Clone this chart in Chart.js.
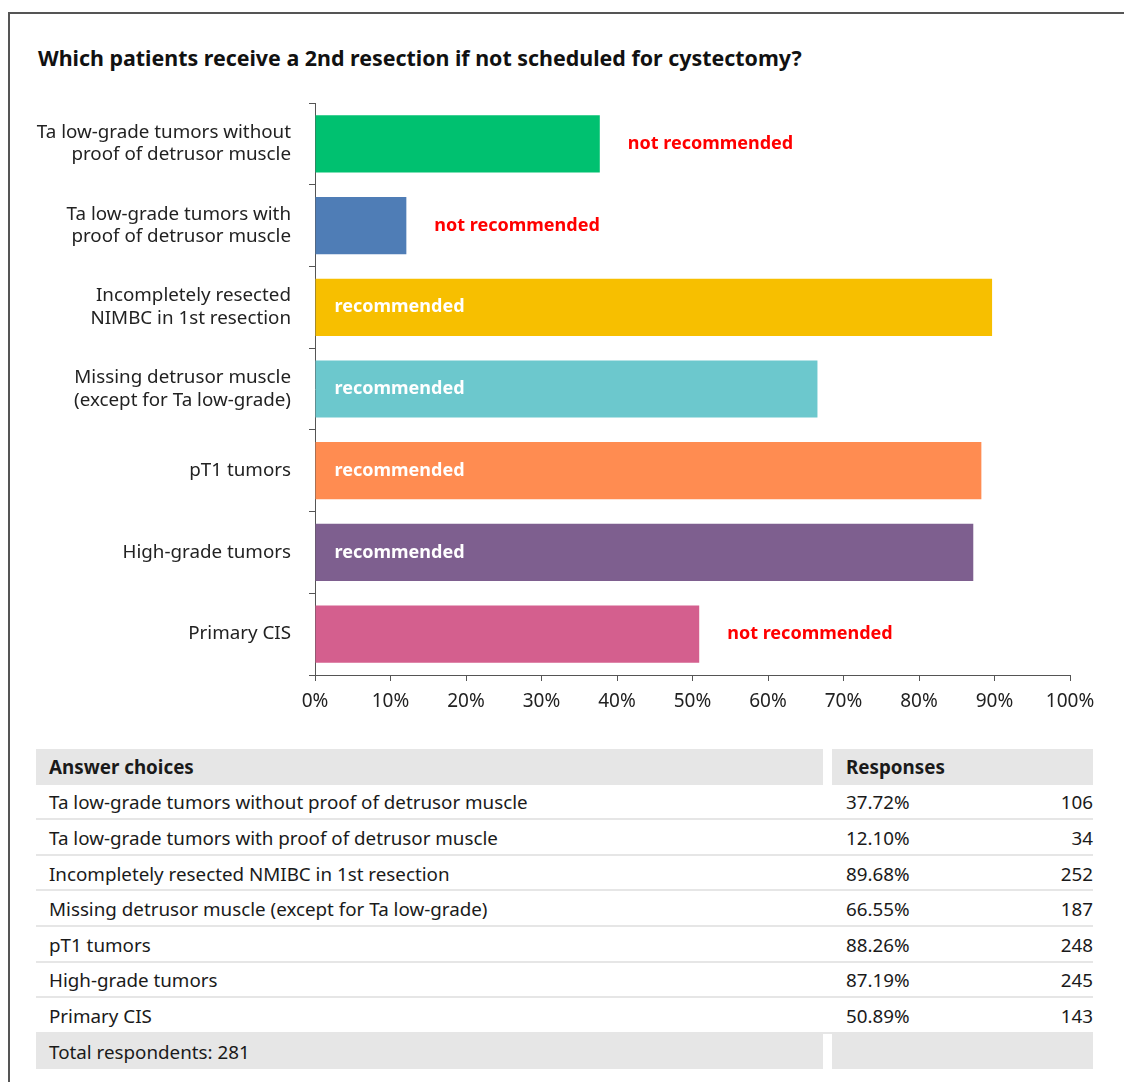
<!DOCTYPE html>
<html>
<head>
<meta charset="utf-8">
<script src="https://cdn.jsdelivr.net/npm/chart.js@4.4.1/dist/chart.umd.min.js"></script>
<style>
  body { margin: 0; background: #fff; font-family: "Noto Sans", sans-serif; color: #1a1a1a; }
  #frame { position: absolute; left: 8px; top: 12px; width: 1200px; height: 1200px;
           border-top: 2px solid #555; border-left: 2px solid #555; }
  #title { position: absolute; left: 38px; top: 43px; font-size: 21.4px; font-weight: bold; color: #111; }
  #wrap { position: absolute; left: 0; top: 90px; width: 1124px; height: 640px; }
  table { position: absolute; left: 36px; top: 749px; width: 1057px; border-collapse: collapse; font-size: 18.8px; }
  td { height: 31.6px; padding: 2px 0 0 0; line-height: 20px; border-bottom: 2px solid #e6e6e6; }
  tr.hd td, tr.ft td { border-bottom: none; height: 34.6px; padding-top: 1px; }
  td.c1 { padding-left: 13px; width: 774px; }
  td.gap { width: 9px; background: #fff; }
  td.c2 { padding-left: 14px; width: 120px; }
  td.c3 { text-align: right; }
  tr.hd td.c1, tr.hd td.c2, tr.hd td.c3, tr.ft td.c1, tr.ft td.c2, tr.ft td.c3 { background: #e6e6e6; }
  tr.hd td { font-weight: bold; }
</style>
</head>
<body>
<div id="frame"></div>
<div id="title">Which patients receive a 2nd resection if not scheduled for cystectomy?</div>
<div id="wrap"><canvas id="chart"></canvas></div>
<table id="tbl"></table>
<script>
// answer choices (as in the table) and the wrapped axis labels
var choices = ["Ta low-grade tumors without proof of detrusor muscle",
               "Ta low-grade tumors with proof of detrusor muscle",
               "Incompletely resected NMIBC in 1st resection",
               "Missing detrusor muscle (except for Ta low-grade)",
               "pT1 tumors",
               "High-grade tumors",
               "Primary CIS"];
var axisLabels = [["Ta low-grade tumors without", "proof of detrusor muscle"],
                  ["Ta low-grade tumors with", "proof of detrusor muscle"],
                  ["Incompletely resected", "NIMBC in 1st resection"],
                  ["Missing detrusor muscle", "(except for Ta low-grade)"],
                  "pT1 tumors",
                  "High-grade tumors",
                  "Primary CIS"];
var percents = [37.72, 12.10, 89.68, 66.55, 88.26, 87.19, 50.89];
var counts = [106, 34, 252, 187, 248, 245, 143];
var advice = ["not recommended", "not recommended", "recommended", "recommended",
              "recommended", "recommended", "not recommended"];
var barColors = ["#00c170", "#4f7db6", "#f7bf00", "#6cc8cd", "#ff8c51", "#7e5f8f", "#d45f8e"];
var totalRespondents = 281;

// annotation: "recommended" inside the bar, "not recommended" after it
var adviceLabels = {
    id: "adviceLabels",
    afterDatasetsDraw: function (chart) {
        var ctx = chart.ctx;
        var meta = chart.getDatasetMeta(0);
        ctx.save();
        ctx.font = "bold 18px 'Noto Sans'";
        ctx.textBaseline = "middle";
        ctx.textAlign = "left";
        meta.data.forEach(function (bar, i) {
            if (advice[i] === "recommended") {
                ctx.fillStyle = "#ffffff";
                ctx.fillText(advice[i], bar.base + 19, bar.y);
            } else {
                ctx.fillStyle = "#ff0000";
                ctx.fillText(advice[i], bar.x + 28, bar.y);
            }
        });
        ctx.restore();
    }
};

var ctx = document.getElementById("chart").getContext("2d");
new Chart(ctx, {
    type: "bar",
    data: {
        labels: axisLabels,
        datasets: [{
            data: percents,
            backgroundColor: barColors,
            barPercentage: 0.7,
            categoryPercentage: 1
        }]
    },
    options: {
        indexAxis: "y",
        responsive: true,
        maintainAspectRatio: false,
        animation: false,
        layout: { padding: { top: 13, right: 54, bottom: 10, left: 0 } },
        plugins: { legend: { display: false }, tooltip: { enabled: false } },
        scales: {
            x: {
                min: 0, max: 100,
                ticks: {
                    stepSize: 10,
                    color: "#222",
                    font: { family: "Noto Sans", size: 19 },
                    padding: 9,
                    callback: function (v) { return v + "%"; }
                },
                grid: { drawOnChartArea: false, color: "#555", tickLength: 6 },
                border: { color: "#555", width: 1 },
                afterFit: function (scale) { scale.height = 45; }
            },
            y: {
                ticks: {
                    color: "#222",
                    font: { family: "Noto Sans", size: 18.8, lineHeight: 1.2 },
                    padding: 18
                },
                grid: { drawOnChartArea: false, offset: true, color: "#555", tickLength: 6 },
                border: { color: "#555", width: 1 },
                afterFit: function (scale) {
                    scale.width = 315;
                    scale.paddingTop = 0;
                    scale.paddingBottom = 0;
                }
            }
        }
    },
    plugins: [adviceLabels]
});

// response table under the chart
var html = '<tr class="hd"><td class="c1">Answer choices</td><td class="gap"></td><td class="c2" colspan="2">Responses</td></tr>';
for (var i = 0; i < choices.length; i++) {
    html += '<tr><td class="c1">' + choices[i] + '</td><td class="gap"></td><td class="c2">' +
        percents[i].toFixed(2) + '%</td><td class="c3">' + counts[i] + '</td></tr>';
}
html += '<tr class="ft"><td class="c1">Total respondents: ' + totalRespondents + '</td><td class="gap"></td><td class="c2"></td><td class="c3"></td></tr>';
document.getElementById("tbl").innerHTML = html;
</script>
</body>
</html>
